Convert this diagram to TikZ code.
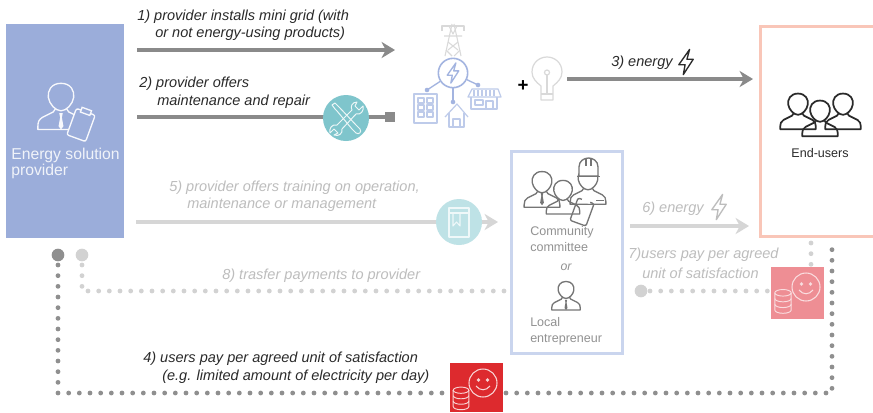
\documentclass[tikz,border=0pt]{standalone}
\usepackage{fontspec}
\setmainfont{Liberation Sans}
\usetikzlibrary{arrows.meta}
\definecolor{provblue}{HTML}{9BADDA}
\definecolor{lineblue}{HTML}{A3B4E0}
\definecolor{combox}{HTML}{CAD5EE}
\definecolor{salmon}{HTML}{F9C6B8}
\definecolor{darkline}{HTML}{8A8A8A}
\definecolor{lightline}{HTML}{D6D6D6}
\definecolor{darkdot}{HTML}{8F8F8F}
\definecolor{lightdot}{HTML}{D2D2D2}
\definecolor{teal1}{HTML}{7FC5CC}
\definecolor{teal2}{HTML}{BEE2E6}
\definecolor{redbox}{HTML}{DD2A2E}
\definecolor{pinkbox}{HTML}{EE8E94}
\definecolor{lighttext}{HTML}{BDBDBD}
\definecolor{midtext}{HTML}{929292}
\definecolor{icongrey}{HTML}{757575}
\definecolor{towergrey}{HTML}{D9D9D9}
\definecolor{darktext}{HTML}{2A2A2A}
\tikzset{
  x=0.75pt,y=-0.75pt,
  lbl/.style={font=\fontsize{10.9}{12.6}\selectfont\itshape,align=left,anchor=west,inner sep=0pt,text=#1},
  lbl/.default=darktext,
  plain/.style={font=\fontsize{#1}{12}\selectfont,align=left,anchor=west,inner sep=0pt},
  flowdark/.style={draw=darkline,line width=2.3pt,-{Stealth[length=10pt,width=12pt,inset=3pt]}},
  flowlight/.style={draw=lightline,line width=2.3pt,-{Stealth[length=10pt,width=12pt,inset=3pt]}},
  dotdark/.style={draw=darkdot,line width=3.6pt,line cap=round,dash pattern=on 0pt off 8pt},
  dotlight/.style={draw=lightdot,line width=3.6pt,line cap=round,dash pattern=on 0pt off 8pt},
  person/.pic={
    \draw[pic actions,line join=round] (-5,6) -- (-7,9) -- (-17,14) .. controls (-20,16) and (-21,18) .. (-21,22)
      -- (-21,25) -- (21,25) -- (21,22) .. controls (21,18) and (20,16) .. (17,14) -- (7,9) -- (5,6);
    \draw[pic actions,line join=round] (0,-17) .. controls (-9,-17) and (-12.5,-10) .. (-11.5,-4)
      .. controls (-10.5,2) and (-5,8) .. (0,8) .. controls (5,8) and (10.5,2) .. (11.5,-4)
      .. controls (12.5,-10) and (9,-17) .. (0,-17) -- cycle;
  },
  tie/.pic={
    \fill[pic actions] (-1.6,10) -- (1.6,10) -- (0.8,14) -- (2.2,22) -- (0,25) -- (-2.2,22) -- (-.8,14) -- cycle;
  },
  clipboard/.pic={
    \draw[pic actions,rotate=-20,line join=round,rounded corners=1.5pt] (-10,-14) rectangle (10,14);
    \fill[pic actions,rotate=-20] (-5,-17) rectangle (5,-12);
  },
  bolt/.pic={
    \draw[pic actions,line join=round] (4,-14) -- (-8,3) -- (-1,3) -- (-3,14) -- (8,-3) -- (1,-3) -- cycle;
  },
  coins/.pic={
    \draw[pic actions] (-10,-10) -- (-10,11) arc[start angle=180,end angle=0,x radius=10,y radius=4] -- (10,-10);
    \draw[pic actions] (0,-10) ellipse[x radius=10,y radius=4];
    \draw[pic actions] (-10,-3) arc[start angle=180,end angle=0,x radius=10,y radius=4];
    \draw[pic actions] (-10,4) arc[start angle=180,end angle=0,x radius=10,y radius=4];
  },
  smile/.pic={
    \draw[pic actions] (0,0) circle[radius=14];
    \fill[pic actions] (-4.5,-3) circle[radius=1.2] (4.5,-3) circle[radius=1.2];
    \draw[pic actions] (-7,3) .. controls (-3,8) and (3,8) .. (7,3);
  },
  wrench/.pic={
    \draw[pic actions,line join=round] (-14,-13) -- (-11,-15) -- (-6,-10) -- (10,7) -- (14,11) .. controls (16,14) and (13,17) .. (10,15) -- (6,11) -- (-9,-7) -- (-11,-9) -- cycle;
    \draw[pic actions,line join=round] (11,-16) .. controls (6,-16) and (4,-11) .. (6,-8) -- (-9,7) .. controls (-14,6) and (-17,10) .. (-16,15) -- (-12,11) -- (-8,15) -- (-12,17) .. controls (-7,19) and (-3,15) .. (-4,11) -- (10,-4) .. controls (15,-3) and (18,-7) .. (17,-12) -- (13,-8) -- (9,-12) -- cycle;
  }
}
\begin{document}
\begin{tikzpicture}
\useasboundingbox (0,0) rectangle (873,412);
\fill[white] (0,0) rectangle (873,412);

% main boxes
\node[fill=provblue,minimum width=88.5pt,minimum height=160pt,inner sep=0pt,anchor=north west] (provider) at (6,24) {};
\begin{scope}
\clip (0,0) rectangle (873,412);
\node[draw=salmon,line width=2.2pt,minimum width=90pt,minimum height=157.5pt,inner sep=0pt,anchor=north west] (endusers) at (759,25) {};
\end{scope}
\node[draw=combox,line width=2.2pt,minimum width=83.25pt,minimum height=151.5pt,inner sep=0pt,anchor=north west] (community) at (510,150) {};

% named connector ends
\coordinate (a1s) at (137,50);  \coordinate (a1e) at (395,50);
\coordinate (a2s) at (137,117); \coordinate (a2e) at (388,117);
\coordinate (a3s) at (567,79);  \coordinate (a3e) at (753,79);
\coordinate (a5s) at (136,222); \coordinate (a5e) at (498,222);
\coordinate (a6s) at (630,226); \coordinate (a6e) at (749,226);
\coordinate (d4a) at (58,265);  \coordinate (d4b) at (58,393);
\coordinate (d4c) at (832,393); \coordinate (d4d) at (832,243);
\coordinate (d8a) at (82,265);  \coordinate (d8b) at (82,291);
\coordinate (d8c) at (506,291);
\coordinate (d7a) at (650,291); \coordinate (d7b) at (772,291);
\coordinate (d7c) at (811,243); \coordinate (d7d) at (811,267);

% arrows
\draw[flowdark] (a1s) -- (a1e);
\draw[flowdark] (a3s) -- (a3e);
\draw[draw=darkline,line width=2.3pt] (a2s) -- (a2e);
\node[fill=darkline,minimum size=7pt,inner sep=0pt] (sq) at (390,117) {};
\draw[flowlight] (a5s) -- (a5e);
\draw[flowlight] (a6s) -- (a6e);

% dotted paths
\draw[dotdark] (d4a) -- (d4b) -- (d4c) -- (d4d);
\draw[dotlight] (d8a) -- (d8b) -- (d8c);
\draw[dotlight] (d7a) -- (d7b);
\draw[dotlight] (d7c) -- (d7d);
\node[circle,fill=darkdot,minimum size=9.5pt,inner sep=0pt] (start4) at (58,255) {};
\node[circle,fill=lightdot,minimum size=9.5pt,inner sep=0pt] (start8) at (82,255) {};
\node[circle,fill=lightdot,minimum size=9.5pt,inner sep=0pt] (start7) at (641,291) {};

% teal circles
\node[circle,fill=teal1,minimum size=34.5pt,inner sep=0pt] (tool) at (346,118) {};
\pic[draw=white!85!teal1,line width=.75pt] at (346,118) {wrench};
\node[circle,fill=teal2,minimum size=34.5pt,inner sep=0pt] (book) at (459,222) {};
\draw[draw=white!75!teal2,line width=.8pt,line join=round] (449,208) rectangle (469,237);
\draw[draw=white!75!teal2,line width=.8pt] (449,213) -- (469,213);
\draw[draw=white!75!teal2,line width=.8pt,line join=round] (453,213) -- (453,226) -- (456.5,222) -- (460,226) -- (460,213);

% payment squares
\node[fill=redbox,minimum width=39.75pt,minimum height=36.75pt,inner sep=0pt,anchor=north west] (paybig) at (450,363) {};
\pic[draw=white!80!redbox,line width=.7pt,scale=.78] at (461,398) {coins};
\pic[draw=white!80!redbox,line width=.8pt] at (483,383) {smile};
\node[fill=pinkbox,minimum width=39.75pt,minimum height=39pt,inner sep=0pt,anchor=north west] (paysmall) at (771,267) {};
\pic[draw=white!70!pinkbox,line width=.7pt,scale=.82] at (783,301) {coins};
\pic[draw=white!70!pinkbox,line width=.8pt] at (806,287) {smile};

% provider icon
\pic[draw=white!92!provblue,line width=1pt,scale=1.1] at (61,102) {person};
\pic[fill=white!92!provblue,scale=1.1] at (61,102) {tie};
\pic[draw=white!92!provblue,fill=provblue,line width=1pt] at (81,125) {clipboard};
\node[plain=11.8,text=white!85!provblue] (provname) at (11,163.5) {Energy solution\\provider};

% end-users icon
\begin{scope}[every pic/.style={draw=darktext,fill=white,line width=1.3pt}]
\pic[scale=.85] at (798,108) {person};
\pic[scale=.85] at (843,108) {person};
\pic[scale=.85] at (820,115) {person};
\end{scope}
\node[font=\fontsize{9.4}{11}\selectfont,text=darktext,inner sep=0pt] (enduserlbl) at (820,153) {End-users};

% community icon
\begin{scope}[every pic/.style={draw=icongrey,fill=white,line width=1pt}]
\pic[scale=.85] at (542,186) {person};
\pic[scale=.85] at (588,183) {person};
\draw[draw=icongrey,fill=white,line width=1pt] (579,176) -- (579,167) .. controls (579,161) and (584,158) .. (588.5,158)
  .. controls (593,158) and (598,161) .. (598,167) -- (598,176) -- cycle;
\draw[draw=icongrey,line width=1.1pt] (577,176.5) -- (600,176.5);
\draw[draw=icongrey,line width=1pt] (586,158) -- (586,166) (591,158) -- (591,166);
\pic[scale=.8] at (563,194) {person};
\pic[scale=.85] at (582,212) {clipboard};
\pic[scale=.68] at (566,293) {person};
\end{scope}
\pic[fill=icongrey,scale=.85] at (542,184) {tie};
\pic[fill=icongrey,scale=.68] at (566,293) {tie};
\draw[draw=icongrey,line width=1.3pt] (596,200.5) -- (604,200.5);
\node[plain=9.4,text=midtext] (commname) at (530,239) {Community\\committee};
\node[font=\fontsize{9.2}{11}\selectfont\itshape,text=midtext,inner sep=0pt] (orlbl) at (566,267) {or};
\node[plain=9.4,text=midtext] (localname) at (530,331) {Local\\entrepreneur};

% mini grid icon
\begin{scope}[draw=towergrey,line width=.8pt,line join=round]
\draw (452,24) -- (445,56) (454,24) -- (461,56);
\draw (442,31) -- (442,26) -- (464,26) -- (464,31);
\draw (444,36) -- (462,36) (448,42) -- (458,50) (458,42) -- (448,50) (446,50) -- (452,56) (460,50) -- (454,56);
\draw (449,26) -- (453,34) -- (457,26);
\end{scope}
\begin{scope}[draw=lineblue,line width=1pt,line join=round]
\node[circle,draw=lineblue,line width=1.2pt,minimum size=22pt,inner sep=0pt] (grid) at (453,73) {};
\pic[draw=lineblue,line width=1pt,scale=.72] at (453,73) {bolt};
\coordinate (gb) at (427,90); \coordinate (gh) at (453,102); \coordinate (gs) at (478,85);
\draw (grid) -- (gb); \draw (grid) -- (gh); \draw (grid) -- (gs);
\fill[lineblue] (gb) circle[radius=2.3] (gh) circle[radius=2.3] (gs) circle[radius=2.3];
\end{scope}
\begin{scope}[draw=combox!70!lineblue,line width=.9pt,line join=round]
\draw (414,94) rectangle (437,123);
\foreach \yy in {98,105,112} { \draw (418,\yy) rectangle (424,\yy+5); \draw (427,\yy) rectangle (433,\yy+5); }
\draw (445,117) -- (457,104) -- (468,117);
\draw (449,113) -- (449,127) -- (464,127) -- (464,113);
\draw (453,127) -- (453,119) -- (460,119) -- (460,127);
\draw (472,89) -- (498,89) -- (501,97) -- (468,97) -- cycle;
\foreach \xx in {474,478,482,486,490,494} \draw (\xx,90) -- (\xx,96);
\draw (471,97) -- (471,109) -- (497,109) -- (497,97);
\draw (475,100) rectangle (483,105);
\draw (486,109) -- (486,101) -- (493,101) -- (493,109);
\end{scope}
\node[font=\fontsize{14}{14}\selectfont\bfseries,text=black,inner sep=0pt] (plus) at (523,86) {+};
% bulb
\begin{scope}[draw=towergrey,line width=.9pt,line join=round]
\draw (541,86) .. controls (536,82) and (532,78) .. (532,72) .. controls (532,63) and (539,57) .. (547,57)
  .. controls (555,57) and (562,63) .. (562,72) .. controls (562,78) and (558,82) .. (553,86) -- (553,100) -- (541,100) -- cycle;
\draw (541,94) -- (553,94);
\draw (547,94) -- (547,75);
\draw (547,72.5) circle[radius=2.5];
\end{scope}

% labels
\node[lbl] (l1a) at (137,17) {1) provider installs mini grid (with};
\node[lbl] (l1b) at (155,34) {or not energy-using products)};
\node[lbl] (l2a) at (139,84) {2) provider offers};
\node[lbl] (l2b) at (157,102) {maintenance and repair};
\node[lbl] (l3) at (611,63) {3) energy};
\pic[draw=darktext,line width=1pt,scale=.9] at (686,62) {bolt};
\node[lbl=lighttext] (l5a) at (169,188) {5) provider offers training on operation,};
\node[lbl=lighttext] (l5b) at (187,205) {maintenance or management};
\node[lbl=lighttext] (l6) at (642,209) {6) energy};
\pic[draw=lighttext,line width=1pt,scale=.9] at (719,207) {bolt};
\node[lbl=lighttext] (l7a) at (628,255) {7)users pay per agreed};
\node[lbl=lighttext] (l7b) at (642,273) {unit of satisfaction};
\node[lbl=lighttext] (l8) at (222,276) {8) trasfer payments to provider};
\node[lbl] (l4a) at (143,359) {4) users pay per agreed unit of satisfaction};
\node[lbl] (l4b) at (162,377) {(e.g. limited amount of electricity per day)};
\end{tikzpicture}
\end{document}
